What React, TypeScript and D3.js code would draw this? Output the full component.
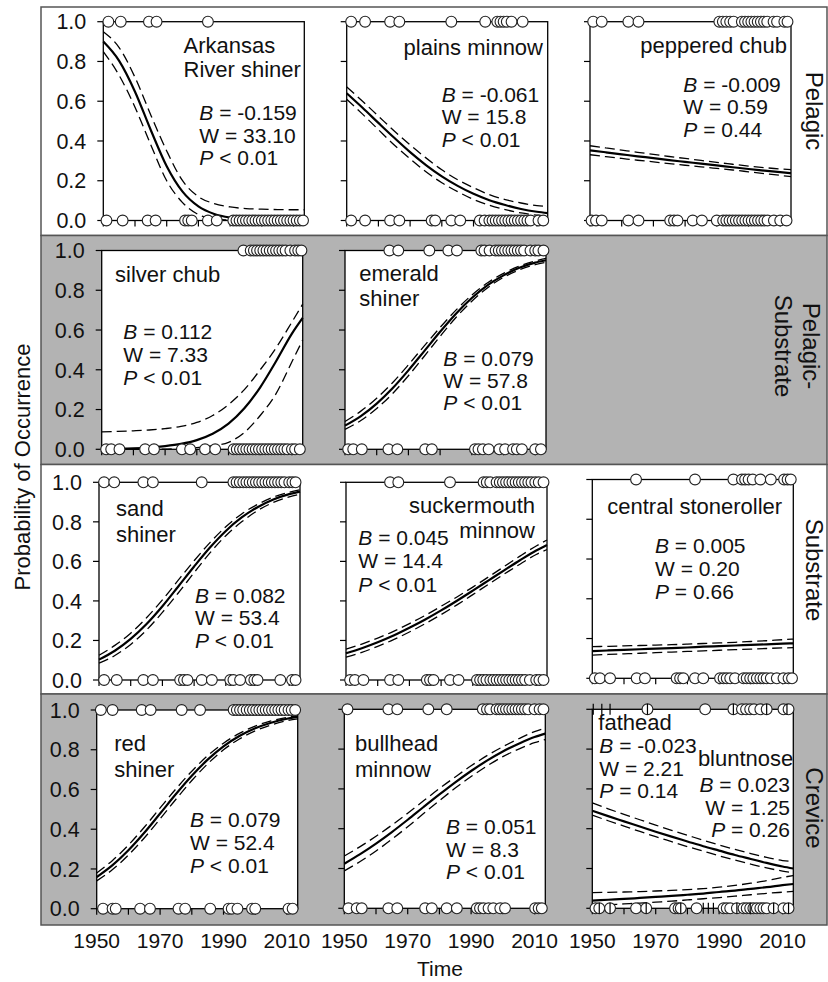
import React from "react";
import * as d3 from "d3";

// ---------------- data ----------------
const X_DOMAIN = [1950, 2013.4];
const X_TICKS = [1950, 1960, 1970, 1980, 1990, 2000, 2010];
const X_TICK_LABELS = [1950, 1970, 1990, 2010];
const Y_TICKS = [0, 0.2, 0.4, 0.6, 0.8, 1.0];
const CURVE_YEARS = [1950, 1955, 1960, 1965, 1970, 1975, 1980, 1985, 1990, 1995, 2000, 2005, 2010, 2013.4];

const SPECIES_NAMES = [
  ["Arkansas", "River shiner"], ["plains minnow"], ["peppered chub"],
  ["silver chub"], ["emerald", "shiner"],
  ["sand", "shiner"], ["suckermouth", "minnow"], ["central stoneroller"],
  ["red", "shiner"], ["bullhead", "minnow"], ["fathead"], ["bluntnose"],
];
const STAT_B = ["-0.159", "-0.061", "-0.009", "0.112", "0.079", "0.082", "0.045", "0.005", "0.079", "0.051", "-0.023", "0.023"];
const STAT_W = ["33.10", "15.8", "0.59", "7.33", "57.8", "53.4", "14.4", "0.20", "52.4", "8.3", "2.21", "1.25"];
const STAT_P = ["< 0.01", "< 0.01", "= 0.44", "< 0.01", "< 0.01", "< 0.01", "< 0.01", "= 0.66", "< 0.01", "< 0.01", "= 0.14", "= 0.26"];
const GUILDS = [["Pelagic"], ["Pelagic-", "Substrate"], ["Substrate"], ["Crevice"]];

// fitted probability and confidence limits at CURVE_YEARS
const arkansasFit = [0.9, 0.803, 0.648, 0.454, 0.273, 0.145, 0.071, 0.033, 0.015, 0.007, 0.003, 0.001, 0.001, 0.0];
const arkansasUpper = [0.95, 0.87, 0.72, 0.53, 0.35, 0.2, 0.12, 0.085, 0.068, 0.06, 0.057, 0.055, 0.054, 0.054];
const arkansasLower = [0.85, 0.73, 0.57, 0.38, 0.2, 0.09, 0.03, 0.008, 0.002, 0, 0, 0, 0, 0];
const plainsFit = [0.64, 0.567, 0.491, 0.416, 0.344, 0.279, 0.222, 0.174, 0.134, 0.102, 0.078, 0.058, 0.044, 0.037];
const plainsUpper = [0.672, 0.6, 0.525, 0.45, 0.38, 0.315, 0.255, 0.205, 0.165, 0.13, 0.105, 0.088, 0.075, 0.07];
const plainsLower = [0.61, 0.535, 0.457, 0.38, 0.31, 0.245, 0.19, 0.145, 0.106, 0.077, 0.055, 0.038, 0.027, 0.022];
const pepperedFit = [0.353, 0.343, 0.333, 0.323, 0.314, 0.304, 0.295, 0.286, 0.277, 0.268, 0.259, 0.251, 0.243, 0.238];
const pepperedUpper = [0.376, 0.365, 0.354, 0.343, 0.333, 0.322, 0.312, 0.302, 0.292, 0.283, 0.274, 0.266, 0.259, 0.256];
const pepperedLower = [0.331, 0.321, 0.312, 0.303, 0.295, 0.286, 0.278, 0.27, 0.262, 0.254, 0.245, 0.236, 0.227, 0.221];
const silverFit = [0.002, 0.003, 0.005, 0.009, 0.016, 0.027, 0.046, 0.078, 0.129, 0.206, 0.312, 0.443, 0.582, 0.661];
const silverUpper = [0.088, 0.09, 0.093, 0.097, 0.104, 0.115, 0.135, 0.17, 0.225, 0.3, 0.4, 0.51, 0.64, 0.73];
const silverLower = [0, 0, 0, 0, 0.001, 0.003, 0.008, 0.018, 0.035, 0.085, 0.17, 0.28, 0.44, 0.55];
const emeraldFit = [0.119, 0.167, 0.23, 0.307, 0.397, 0.494, 0.591, 0.682, 0.761, 0.826, 0.875, 0.913, 0.939, 0.951];
const emeraldUpper = [0.14, 0.192, 0.257, 0.335, 0.425, 0.52, 0.613, 0.7, 0.776, 0.838, 0.885, 0.922, 0.947, 0.96];
const emeraldLower = [0.1, 0.145, 0.205, 0.28, 0.37, 0.468, 0.568, 0.663, 0.745, 0.813, 0.865, 0.903, 0.929, 0.94];
const sandFit = [0.103, 0.148, 0.208, 0.283, 0.373, 0.473, 0.574, 0.67, 0.754, 0.822, 0.874, 0.913, 0.94, 0.953];
const sandUpper = [0.125, 0.175, 0.237, 0.315, 0.405, 0.505, 0.603, 0.695, 0.775, 0.84, 0.888, 0.925, 0.95, 0.962];
const sandLower = [0.085, 0.124, 0.18, 0.253, 0.342, 0.44, 0.543, 0.643, 0.73, 0.8, 0.857, 0.898, 0.926, 0.94];
const suckerFit = [0.135, 0.161, 0.191, 0.225, 0.264, 0.306, 0.352, 0.401, 0.452, 0.504, 0.556, 0.607, 0.655, 0.683];
const suckerUpper = [0.156, 0.182, 0.212, 0.246, 0.285, 0.327, 0.373, 0.42, 0.47, 0.522, 0.575, 0.628, 0.678, 0.708];
const suckerLower = [0.115, 0.14, 0.17, 0.204, 0.243, 0.285, 0.331, 0.38, 0.432, 0.485, 0.537, 0.587, 0.635, 0.66];
const stonerollerFit = [0.137, 0.14, 0.143, 0.146, 0.149, 0.152, 0.155, 0.159, 0.162, 0.165, 0.168, 0.171, 0.174, 0.176];
const stonerollerUpper = [0.159, 0.161, 0.163, 0.165, 0.167, 0.169, 0.172, 0.175, 0.178, 0.181, 0.185, 0.189, 0.194, 0.197];
const stonerollerLower = [0.117, 0.12, 0.123, 0.126, 0.129, 0.132, 0.135, 0.138, 0.141, 0.144, 0.147, 0.15, 0.153, 0.154];
const redFit = [0.159, 0.219, 0.294, 0.382, 0.479, 0.577, 0.669, 0.75, 0.817, 0.869, 0.908, 0.936, 0.956, 0.965];
const redUpper = [0.18, 0.243, 0.32, 0.41, 0.507, 0.603, 0.692, 0.77, 0.833, 0.882, 0.919, 0.945, 0.963, 0.971];
const redLower = [0.14, 0.197, 0.27, 0.356, 0.452, 0.551, 0.645, 0.729, 0.8, 0.854, 0.895, 0.925, 0.946, 0.955];
const bullheadFit = [0.224, 0.272, 0.325, 0.383, 0.445, 0.509, 0.572, 0.633, 0.69, 0.742, 0.788, 0.827, 0.861, 0.878];
const bullheadUpper = [0.263, 0.31, 0.362, 0.418, 0.478, 0.54, 0.602, 0.66, 0.716, 0.767, 0.812, 0.852, 0.888, 0.906];
const bullheadLower = [0.188, 0.235, 0.288, 0.347, 0.41, 0.476, 0.541, 0.604, 0.662, 0.715, 0.762, 0.8, 0.832, 0.848];
const fatheadFit = [0.49, 0.463, 0.437, 0.411, 0.385, 0.36, 0.336, 0.312, 0.29, 0.268, 0.248, 0.228, 0.21, 0.2];
const fatheadUpper = [0.53, 0.5, 0.472, 0.445, 0.418, 0.392, 0.367, 0.342, 0.318, 0.296, 0.275, 0.256, 0.24, 0.235];
const fatheadLower = [0.468, 0.44, 0.413, 0.386, 0.36, 0.335, 0.31, 0.287, 0.264, 0.242, 0.222, 0.203, 0.187, 0.178];
const bluntnoseFit = [0.039, 0.043, 0.047, 0.052, 0.057, 0.062, 0.068, 0.074, 0.082, 0.089, 0.098, 0.106, 0.116, 0.122];
const bluntnoseUpper = [0.079, 0.08, 0.082, 0.084, 0.087, 0.09, 0.094, 0.099, 0.106, 0.115, 0.126, 0.139, 0.155, 0.165];
const bluntnoseLower = [0.015, 0.018, 0.022, 0.026, 0.031, 0.036, 0.042, 0.048, 0.054, 0.061, 0.068, 0.075, 0.081, 0.085];

// observation years: present (1) / absent (0)
const arkansasPresent = [1951.6, 1955.5, 1964.4, 1966.8, 1983];
const arkansasAbsent = [1951, 1956.1, 1964, 1966.5, 1975.8, 1976.8, 1977.9, 1983, 1985.8, 1991, 1992, 1993, 1994, 1995, 1996, 1997, 1998, 1999, 2000, 2001, 2002, 2003, 2004, 2005, 2006, 2007, 2008, 2009, 2010, 2011, 2012, 2013];
const plainsPresent = [1951.4, 1955.8, 1963.7, 1966.6, 1983, 1993.7, 1997.5, 1998.5, 1999.5, 2000.5, 2002, 2005.5];
const plainsAbsent = [1951.4, 1955.8, 1963.7, 1966.6, 1976.8, 1977.9, 1983, 1985.8, 1992, 1993.5, 1995, 1996, 1997, 1998, 1999, 2000, 2001, 2002, 2003, 2004, 2005, 2006, 2007, 2008, 2010.5, 2012];
const pepperedPresent = [1951, 1953.7, 1962.1, 1965.3, 1990.8, 1991.9, 1993, 1994.2, 1995.3, 1997.9, 1998.9, 1999.9, 2000.9, 2001.9, 2002.9, 2003.9, 2004.9, 2005.9, 2007.9, 2009, 2011.3, 2012.3];
const pepperedAbsent = [1950.5, 1951.9, 1953.7, 1962.1, 1965.3, 1975.3, 1976.5, 1977.6, 1982.4, 1985.3, 1990, 1992, 1993, 1994, 1995, 1996, 1997, 1998, 1999, 2000, 2001, 2002, 2003, 2004, 2005, 2006, 2008, 2010, 2012];
const silverPresent = [1994.7, 1997, 1998, 1999, 2000, 2001, 2002, 2003, 2004, 2005, 2006, 2007, 2008, 2009.5, 2011, 2012, 2013];
const silverAbsent = [1951.4, 1953, 1955.6, 1963.7, 1966.5, 1975.3, 1977.9, 1982.6, 1985.8, 1991.6, 1992.6, 1993.6, 1994.6, 1995.6, 1996.6, 1997.6, 1998.6, 1999.6, 2000.6, 2001.6, 2002.6, 2003.6, 2004.6, 2005.6, 2006.6, 2007.6, 2008.6, 2010, 2011, 2012.5];
const emeraldPresent = [1964, 1966.8, 1976.6, 1982.6, 1985.3, 1993, 1994, 1995.6, 1997.5, 1998.5, 1999.5, 2000.5, 2001.5, 2002.5, 2003.5, 2004.5, 2005.5, 2006.5, 2008.5, 2010, 2011, 2012.6];
const emeraldAbsent = [1951, 1952.6, 1955.3, 1963.7, 1966.5, 1975.3, 1977.4, 1991, 1992.1, 1993.5, 1995.3, 1998.7, 2000.5, 2003, 2004.2, 2005.8, 2010, 2011.8];
const sandPresent = [1951.6, 1954.8, 1964, 1967, 1982.4, 1992.4, 1993.4, 1994.4, 1995.5, 1996.5, 1997.5, 1998.5, 1999.5, 2000.5, 2001.5, 2002.5, 2003.5, 2004.5, 2005.5, 2006.5, 2007.5, 2008.5, 2010, 2011, 2012];
const sandAbsent = [1951.6, 1955.6, 1964, 1967, 1975.6, 1976.8, 1977.9, 1982.4, 1985.6, 1991.4, 1992.4, 1994.5, 1997.9, 1999, 2000, 2007.2, 2010.9, 2012];
const suckerPresent = [1963.9, 1966.5, 1982.8, 1993.4, 1994.4, 1995.5, 1997.5, 1998.5, 1999.5, 2000.5, 2001.5, 2002.5, 2003.5, 2004.5, 2005.5, 2006.5, 2007.5, 2008.5, 2009.7, 2010.8, 2012.3];
const suckerAbsent = [1951.3, 1952.8, 1955.5, 1963.9, 1966.5, 1975.5, 1976.5, 1977.6, 1982.8, 1985.5, 1991.3, 1992.3, 1993.3, 1994.3, 1995.5, 1996.5, 1997.5, 1998.5, 1999.5, 2000.5, 2001.5, 2002.5, 2003.5, 2004.5, 2005.5, 2006.5, 2008, 2010, 2011, 2012.3];
const stonerollerPresent = [1963.8, 1982.4, 1994.5, 1997.2, 1998.2, 1999.3, 2000.6, 2003, 2006.3, 2010.5, 2011.6, 2012.6];
const stonerollerAbsent = [1950.8, 1952.4, 1955.6, 1964, 1966.6, 1976.6, 1977.7, 1978.7, 1982.4, 1985, 1990.3, 1991.4, 1992.4, 1993.5, 1995, 1997.7, 1998.7, 1999.8, 2000.8, 2001.9, 2003, 2004, 2005, 2006.3, 2008.2, 2010.3, 2011.9, 2013];
const redPresent = [1951.3, 1955, 1964.2, 1967, 1976.8, 1982.6, 1993.2, 1994.2, 1995.2, 1996.2, 1997.3, 1998.3, 1999.3, 2000.3, 2001.3, 2002.3, 2003.3, 2004.3, 2005.3, 2006.3, 2007.3, 2008.3, 2009.3, 2010.5, 2011.5, 2012.6];
const redAbsent = [1952, 1955, 1956, 1963.7, 1966.8, 1975.8, 1977.9, 1985.8, 1991.6, 1992.6, 1994.4, 1999, 2000, 2010.5, 2011.8];
const bullheadPresent = [1951, 1963.9, 1966.7, 1976.5, 1982.3, 1993.7, 1995, 1996, 1998, 1999, 2000, 2001, 2002, 2003, 2004, 2005, 2006, 2007, 2008, 2010, 2011.6, 2012.8];
const bullheadAbsent = [1951.3, 1953.9, 1955.5, 1963.9, 1966.7, 1975.5, 1977.6, 1982.3, 1985.5, 1991.8, 1992.8, 1993.9, 1995.5, 1997, 1999.2, 2000.7, 2010.2, 2011.3, 2012.3];
const fatheadPresent = [1967.4, 1985.6, 1994.5, 1997.2, 1998.5, 1999.8, 2001, 2003, 2005, 2010.3, 2011.9];
const fatheadAbsent = [1951, 1952.2, 1955.6, 1963.8, 1967, 1976.1, 1977.2, 1977.9, 1982.9, 1991.4, 1992.4, 1993.5, 1995.6, 1997.7, 1998.7, 1999.8, 2000.8, 2001.9, 2003, 2004, 2005, 2007.2, 2010.3, 2011.9];
const bluntnosePresent = [1950.3, 1953, 1955.6, 1967.4, 1994.5, 2005, 2011.4];
const bluntnoseAbsent = [1952.2, 1955.6, 1967, 1977.9, 1985, 1986.6, 1988.2, 1995.6, 1999.8, 2007.2, 2011.9];

// series table built from the arrays above (panel index, marker type)
const SERIES = [
  { panel: 0, fit: arkansasFit, upper: arkansasUpper, lower: arkansasLower, present: arkansasPresent, absent: arkansasAbsent, marker: "circle" },
  { panel: 1, fit: plainsFit, upper: plainsUpper, lower: plainsLower, present: plainsPresent, absent: plainsAbsent, marker: "circle" },
  { panel: 2, fit: pepperedFit, upper: pepperedUpper, lower: pepperedLower, present: pepperedPresent, absent: pepperedAbsent, marker: "circle" },
  { panel: 3, fit: silverFit, upper: silverUpper, lower: silverLower, present: silverPresent, absent: silverAbsent, marker: "circle" },
  { panel: 4, fit: emeraldFit, upper: emeraldUpper, lower: emeraldLower, present: emeraldPresent, absent: emeraldAbsent, marker: "circle" },
  { panel: 5, fit: sandFit, upper: sandUpper, lower: sandLower, present: sandPresent, absent: sandAbsent, marker: "circle" },
  { panel: 6, fit: suckerFit, upper: suckerUpper, lower: suckerLower, present: suckerPresent, absent: suckerAbsent, marker: "circle" },
  { panel: 7, fit: stonerollerFit, upper: stonerollerUpper, lower: stonerollerLower, present: stonerollerPresent, absent: stonerollerAbsent, marker: "circle" },
  { panel: 8, fit: redFit, upper: redUpper, lower: redLower, present: redPresent, absent: redAbsent, marker: "circle" },
  { panel: 9, fit: bullheadFit, upper: bullheadUpper, lower: bullheadLower, present: bullheadPresent, absent: bullheadAbsent, marker: "circle" },
  { panel: 10, fit: fatheadFit, upper: fatheadUpper, lower: fatheadLower, present: fatheadPresent, absent: fatheadAbsent, marker: "circle" },
  { panel: 10, fit: bluntnoseFit, upper: bluntnoseUpper, lower: bluntnoseLower, present: bluntnosePresent, absent: bluntnoseAbsent, marker: "tick" },
];

// ---------------- layout ----------------
const W = 828, H = 982;
const FONT = "'Liberation Sans', Arial, Helvetica, sans-serif";
const PANEL_W = 201;
const BOXES = [
  { left: 103.3, top: 21.7, bottom: 220.5, col: 0, row: 0 },
  { left: 346.7, top: 21.7, bottom: 220.5, col: 1, row: 0 },
  { left: 590, top: 21.7, bottom: 220.5, col: 2, row: 0 },
  { left: 101.7, top: 250.5, bottom: 449.3, col: 0, row: 1 },
  { left: 345, top: 250.5, bottom: 449.3, col: 1, row: 1 },
  { left: 99, top: 482.3, bottom: 680, col: 0, row: 2 },
  { left: 346, top: 482.3, bottom: 680, col: 1, row: 2 },
  { left: 592.3, top: 479.5, bottom: 678.3, col: 2, row: 2 },
  { left: 96.7, top: 710, bottom: 908.7, col: 0, row: 3 },
  { left: 344.3, top: 709.3, bottom: 908.3, col: 1, row: 3 },
  { left: 592.3, top: 709.3, bottom: 908.3, col: 2, row: 3 },
];
const BAND_Y = [7, 235.5, 464.5, 694, 925];
const FRAME_X = [41, 827];
// text placement per series: name (x, anchor, baselines), stats (x, anchor, baselines)
const TEXT_POS = [
  { nx: 183.5, na: "start", ny: [53.3, 77.3], sx: 199.3, sa: "start", sy: [120, 142.5, 165] },
  { nx: 543, na: "end", ny: [55], sx: 441.7, sa: "start", sy: [101.7, 124, 146.5] },
  { nx: 787, na: "end", ny: [53.3], sx: 683.3, sa: "start", sy: [91.7, 114, 136.7] },
  { nx: 115, na: "start", ny: [281.7], sx: 123.3, sa: "start", sy: [339.3, 362, 385] },
  { nx: 359.3, na: "start", ny: [280.7, 306], sx: 443.3, sa: "start", sy: [366, 388, 410] },
  { nx: 116, na: "start", ny: [516, 541.7], sx: 195, sa: "start", sy: [602.7, 625.3, 648.3] },
  { nx: 535, na: "end", ny: [512.7, 538.3], sx: 358.3, sa: "start", sy: [545, 568.3, 591.7] },
  { nx: 694.7, na: "middle", ny: [514], sx: 655, sa: "start", sy: [552.7, 576, 599.3] },
  { nx: 114.3, na: "start", ny: [750.7, 776.7], sx: 190, sa: "start", sy: [827.3, 850, 873.3] },
  { nx: 355, na: "start", ny: [750.7, 776.7], sx: 446, sa: "start", sy: [834, 856.5, 879] },
  { nx: 598.3, na: "start", ny: [730], sx: 599.3, sa: "start", sy: [752.7, 775.5, 798.3] },
  { nx: 793.3, na: "end", ny: [766], sx: 790, sa: "end", sy: [791.7, 814.5, 837.3] },
];
const GUILD_POS = [
  { x: [806], y: 111 },
  { x: [803, 775], y: 346 },
  { x: [806], y: 570 },
  { x: [806], y: 808 },
];

function scalesFor(p: number) {
  const b = BOXES[p];
  const x = d3.scaleLinear().domain(X_DOMAIN).range([b.left, b.left + PANEL_W]);
  const y = d3.scaleLinear().domain([0, 1]).range([b.bottom, b.top]);
  return { x, y };
}

function PanelFrame({ p }: { p: number }) {
  const b = BOXES[p];
  const { x, y } = scalesFor(p);
  const TL = 6;
  return (
    <g>
      <rect x={b.left} y={b.top} width={PANEL_W} height={b.bottom - b.top} fill="#fff" stroke="none" />
      {Y_TICKS.map((t) => (
        <line key={"yt" + t} x1={b.left - TL} x2={b.left} y1={y(t)} y2={y(t)} stroke="#000" strokeWidth={1.2} />
      ))}
      {X_TICKS.map((t) => (
        <line key={"xt" + t} x1={x(t)} x2={x(t)} y1={b.bottom} y2={b.bottom + TL} stroke="#000" strokeWidth={1.2} />
      ))}
      {b.col === 0 &&
        Y_TICKS.map((t) => (
          <text key={"yl" + t} x={b.left - 17} y={y(t)} dy="0.36em" textAnchor="end" fontSize={21.5} fontFamily={FONT} fill="#111">
            {d3.format(".1f")(t)}
          </text>
        ))}
      {b.row === 3 &&
        X_TICK_LABELS.map((t) => (
          <text key={"xl" + t} x={x(t)} y={b.bottom + 39.5} textAnchor="middle" fontSize={21} fontFamily={FONT} fill="#111">
            {t}
          </text>
        ))}
    </g>
  );
}

function PanelBorder({ p }: { p: number }) {
  const b = BOXES[p];
  return <rect x={b.left} y={b.top} width={PANEL_W} height={b.bottom - b.top} fill="none" stroke="#000" strokeWidth={1.3} />;
}

function Curves({ s }: { s: number }) {
  const S = SERIES[s];
  const { x, y } = scalesFor(S.panel);
  const line = d3
    .line<[number, number]>()
    .x((d) => x(d[0]))
    .y((d) => y(d[1]))
    .curve(d3.curveMonotoneX);
  const mk = (arr: number[]) => line(CURVE_YEARS.map((yr, i) => [yr, arr[i]] as [number, number])) || "";
  return (
    <g fill="none" stroke="#000">
      <path d={mk(S.upper)} strokeWidth={1.3} strokeDasharray="10,5" />
      <path d={mk(S.lower)} strokeWidth={1.3} strokeDasharray="10,5" />
      <path d={mk(S.fit)} strokeWidth={2.2} />
    </g>
  );
}

function Points({ s }: { s: number }) {
  const S = SERIES[s];
  const { x, y } = scalesFor(S.panel);
  const pts = [
    ...S.present.map((yr) => ({ yr, v: 1 })),
    ...S.absent.map((yr) => ({ yr, v: 0 })),
  ];
  if (S.marker === "tick") {
    return (
      <g>
        {pts.map((d, i) => (
          <line key={i} x1={x(d.yr)} x2={x(d.yr)} y1={y(d.v) - 5.5} y2={y(d.v) + 5.5} stroke="#000" strokeWidth={1.2} />
        ))}
      </g>
    );
  }
  return (
    <g>
      {pts.map((d, i) => (
        <circle key={i} cx={x(d.yr)} cy={y(d.v)} r={5.4} fill="#fff" stroke="#222" strokeWidth={1.1} />
      ))}
    </g>
  );
}

function Labels({ s }: { s: number }) {
  const t = TEXT_POS[s];
  const statLines = [
    { lab: "B", it: true, val: STAT_B[s], op: "=" },
    { lab: "W", it: false, val: STAT_W[s], op: "=" },
    { lab: "P", it: true, val: STAT_P[s].slice(2), op: STAT_P[s].slice(0, 1) },
  ];
  return (
    <g fontFamily={FONT} fill="#111">
      {SPECIES_NAMES[s].map((n, i) => (
        <text key={"n" + i} x={t.nx} y={t.ny[i]} textAnchor={t.na} fontSize={22}>
          {n}
        </text>
      ))}
      {statLines.map((l, i) => (
        <text key={"s" + i} x={t.sx} y={t.sy[i]} textAnchor={t.sa} fontSize={21}>
          <tspan fontStyle={l.it ? "italic" : "normal"}>{l.lab}</tspan>
          {" " + l.op + " " + l.val}
        </text>
      ))}
    </g>
  );
}

export default function App() {
  return (
    <svg
      width={W}
      height={H}
      viewBox={`0 0 ${W} ${H}`}
      style={{ position: "absolute", left: 0, top: 0, background: "#fff" }}
    >
      {/* guild bands */}
      {GUILDS.map((g, r) => (
        <rect
          key={"band" + r}
          x={FRAME_X[0]}
          y={BAND_Y[r]}
          width={FRAME_X[1] - FRAME_X[0]}
          height={BAND_Y[r + 1] - BAND_Y[r]}
          fill={r % 2 === 1 ? "#b3b3b3" : "#ffffff"}
          stroke="#555"
          strokeWidth={1.5}
        />
      ))}
      {BOXES.map((_, p) => (
        <PanelFrame key={"pf" + p} p={p} />
      ))}
      {SERIES.map((_, s) => (
        <Curves key={"c" + s} s={s} />
      ))}
      {BOXES.map((_, p) => (
        <PanelBorder key={"pb" + p} p={p} />
      ))}
      {SERIES.map((_, s) => (
        <Points key={"pt" + s} s={s} />
      ))}
      {SERIES.map((_, s) => (
        <Labels key={"lb" + s} s={s} />
      ))}
      {/* guild labels */}
      {GUILDS.map((g, r) =>
        g.map((line, i) => (
          <text
            key={"g" + r + i}
            transform={`translate(${GUILD_POS[r].x[i]},${GUILD_POS[r].y}) rotate(90)`}
            textAnchor="middle"
            fontSize={24}
            fontFamily={FONT}
            fill="#111"
          >
            {line}
          </text>
        ))
      )}
      {/* axis titles */}
      <text transform="translate(29.5,467) rotate(-90)" textAnchor="middle" fontSize={22} fontFamily={FONT} fill="#111">
        Probability of Occurrence
      </text>
      <text x={440} y={976} textAnchor="middle" fontSize={21} fontFamily={FONT} fill="#111">
        Time
      </text>
    </svg>
  );
}
